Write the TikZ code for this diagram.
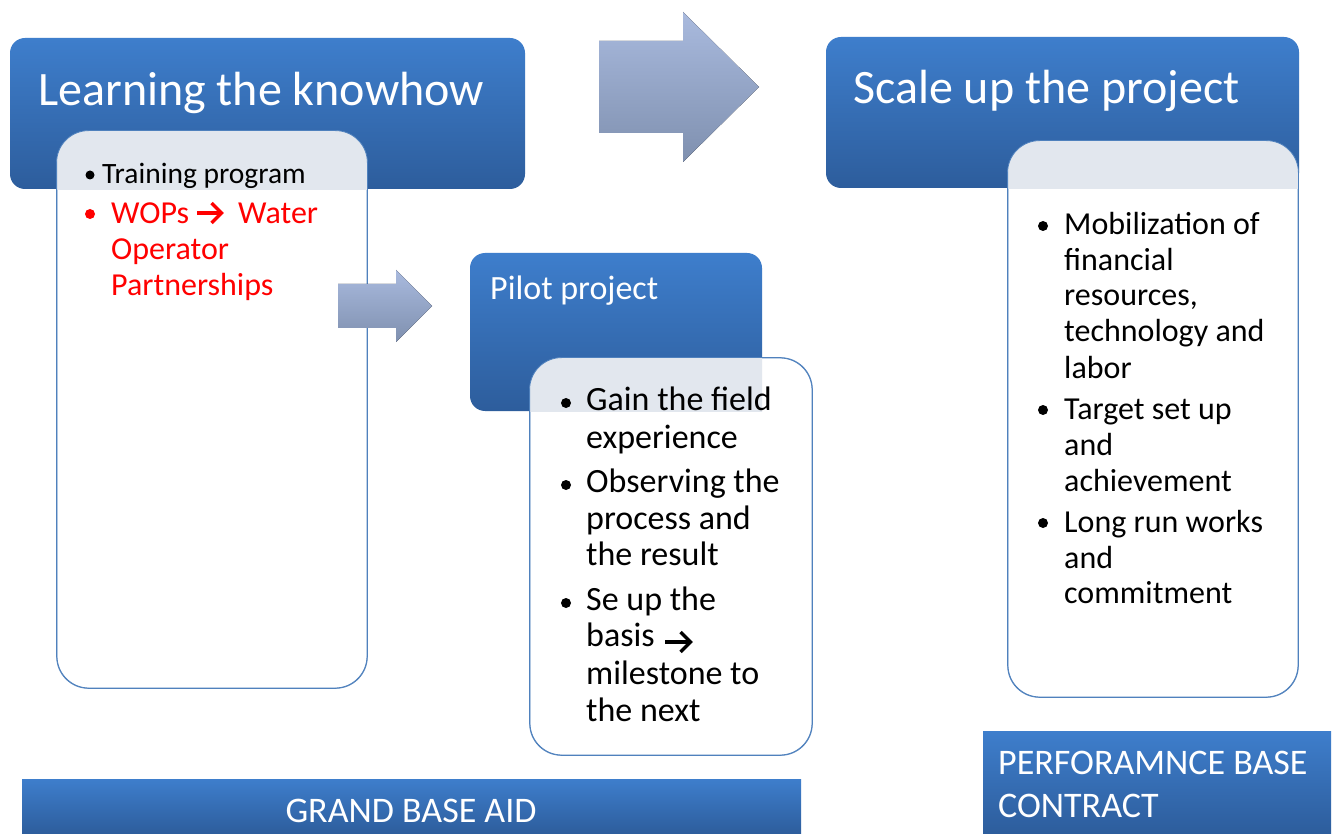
\documentclass[tikz,border=0pt]{standalone}
\usepackage{fontspec}
\setmainfont{Carlito}
\definecolor{btop}{HTML}{3E7ECC}
\definecolor{bbot}{HTML}{2D5D9C}
\definecolor{bord}{HTML}{4F81BD}
\definecolor{atop}{HTML}{A9BADE}
\definecolor{abot}{HTML}{7F90AF}
\definecolor{texc}{HTML}{E2E7EE}
\definecolor{wred}{HTML}{FF0000}
\begin{document}
\begin{tikzpicture}[x=1pt,y=-1pt,
  bluebox/.style={rounded corners=15pt, top color=btop, bottom color=bbot, draw=none, inner sep=0pt},
  flatbox/.style={top color=btop, bottom color=bbot, draw=none, inner sep=0pt},
  whitebox/.style={rounded corners=32pt, fill=white, draw=bord, line width=0.8pt, inner sep=0pt},
  arrowfill/.style={top color=atop, bottom color=abot, draw=none},
  txt/.style={anchor=base west, inner sep=0pt, font=\fontsize{#1pt}{#1pt}\selectfont},
  wtxt/.style={txt=#1, text=white},
  dot/.style={circle, fill=#1, draw=none, inner sep=0pt, minimum size=10pt},
  chev/.style={line width=3.3pt, line join=miter, draw=#1},
]
\useasboundingbox (0,0) rectangle (1334,834);
\fill[white] (0,0) rectangle (1334,834);

% ---------- Learning the knowhow ----------
\node[bluebox, minimum width=515pt, minimum height=151pt] (learn) at (267.5,113.5) {};
\node[whitebox, minimum width=310pt, minimum height=557pt] (learnw) at (212,409.5) {};
\begin{scope}
  \clip (learn.south west) rectangle (learn.north east);
  \fill[texc, rounded corners=32pt] (learnw.south west) rectangle (learnw.north east);
\end{scope}
\draw[bord, line width=0.8pt, rounded corners=32pt] (learnw.south west) rectangle (learnw.north east);
\node[wtxt=48] (learnt) at (38,106) {Learning the knowhow};
\node[dot=black, minimum size=9pt] (b1) at (90,175) {};
\node[txt=29.5] (l1) at (102,184) {Training program};
\node[dot=wred] (b2) at (90,214) {};
\node[txt=32, text=wred] (l2a) at (111,224) {WOPs};
\draw[chev=wred] (197,213) -- (221,213);
\draw[chev=wred] (211.5,203) -- (221.5,213) -- (211.5,223);
\node[txt=32, text=wred] (l2b) at (238,224) {Water};
\node[txt=32, text=wred] (l3) at (111,260) {Operator};
\node[txt=32, text=wred] (l4) at (111,296) {Partnerships};

% ---------- small arrow ----------
\fill[arrowfill] (338,284) -- (396,284) -- (396,270) -- (432,306) -- (396,342) -- (396,328) -- (338,328) -- cycle;

% ---------- big arrow ----------
\fill[arrowfill] (599,41) -- (683,41) -- (683,12) -- (759,87) -- (683,162) -- (683,133) -- (599,133) -- cycle;

% ---------- Pilot project ----------
\node[bluebox, minimum width=292pt, minimum height=158pt] (pilot) at (616,332) {};
\node[whitebox, minimum width=282pt, minimum height=397pt] (pilotw) at (671,556.5) {};
\begin{scope}
  \clip (pilot.south west) rectangle (pilot.north east);
  \fill[texc, rounded corners=32pt] (pilotw.south west) rectangle (pilotw.north east);
\end{scope}
\draw[bord, line width=0.8pt, rounded corners=32pt] (pilotw.south west) rectangle (pilotw.north east);
\node[wtxt=34] (pilott) at (490,300) {Pilot project};
\node[dot=black] (pb1) at (566,403) {};
\node[txt=34] (p1) at (586,410) {Gain the field};
\node[txt=34] (p2) at (586,448) {experience};
\node[dot=black] (pb2) at (566,485) {};
\node[txt=34] (p3) at (586,492) {Observing the};
\node[txt=34] (p4) at (586,529) {process and};
\node[txt=34] (p5) at (586,565) {the result};
\node[dot=black] (pb3) at (566,603) {};
\node[txt=34] (p6) at (586,610) {Se up the};
\node[txt=34] (p7) at (586,646) {basis};
\draw[chev=black] (665,642) -- (690,642);
\draw[chev=black] (680.5,632) -- (690.5,642) -- (680.5,652);
\node[txt=34] (p8) at (586,684) {milestone to};
\node[txt=34] (p9) at (586,721) {the next};

% ---------- Scale up the project ----------
\node[bluebox, minimum width=473pt, minimum height=151pt] (scale) at (1062.5,112.5) {};
\node[whitebox, minimum width=290pt, minimum height=556pt] (scalew) at (1153,419) {};
\begin{scope}
  \clip (scale.south west) rectangle (scale.north east);
  \fill[texc, rounded corners=32pt] (scalew.south west) rectangle (scalew.north east);
\end{scope}
\draw[bord, line width=0.8pt, rounded corners=32pt] (scalew.south west) rectangle (scalew.north east);
\node[wtxt=48] (scalet) at (853,104) {Scale up the project};
\node[dot=black] (sb1) at (1043,226) {};
\node[txt=32] (s1) at (1064,235) {Mobilization of};
\node[txt=32] (s2) at (1064,271) {financial};
\node[txt=32] (s3) at (1064,306) {resources,};
\node[txt=32] (s4) at (1064,342) {technology and};
\node[txt=32] (s5) at (1064,378) {labor};
\node[dot=black] (sb2) at (1043,410) {};
\node[txt=32] (s6) at (1064,419) {Target set up};
\node[txt=32] (s7) at (1064,455) {and};
\node[txt=32] (s8) at (1064,491) {achievement};
\node[dot=black] (sb3) at (1043,523) {};
\node[txt=32] (s9) at (1064,532) {Long run works};
\node[txt=32] (s10) at (1064,568) {and};
\node[txt=32] (s11) at (1064,603) {commitment};

% ---------- bottom bars ----------
\node[flatbox, minimum width=779pt, minimum height=55pt] (grand) at (411.5,806.5) {};
\node[wtxt=36, anchor=base] (grandt) at (411,822) {GRAND BASE AID};
\node[flatbox, minimum width=348pt, minimum height=103pt] (perf) at (1157,782.5) {};
\node[wtxt=36] (perft1) at (998,774) {PERFORAMNCE BASE};
\node[wtxt=36] (perft2) at (998,817) {CONTRACT};
\end{tikzpicture}
\end{document}
